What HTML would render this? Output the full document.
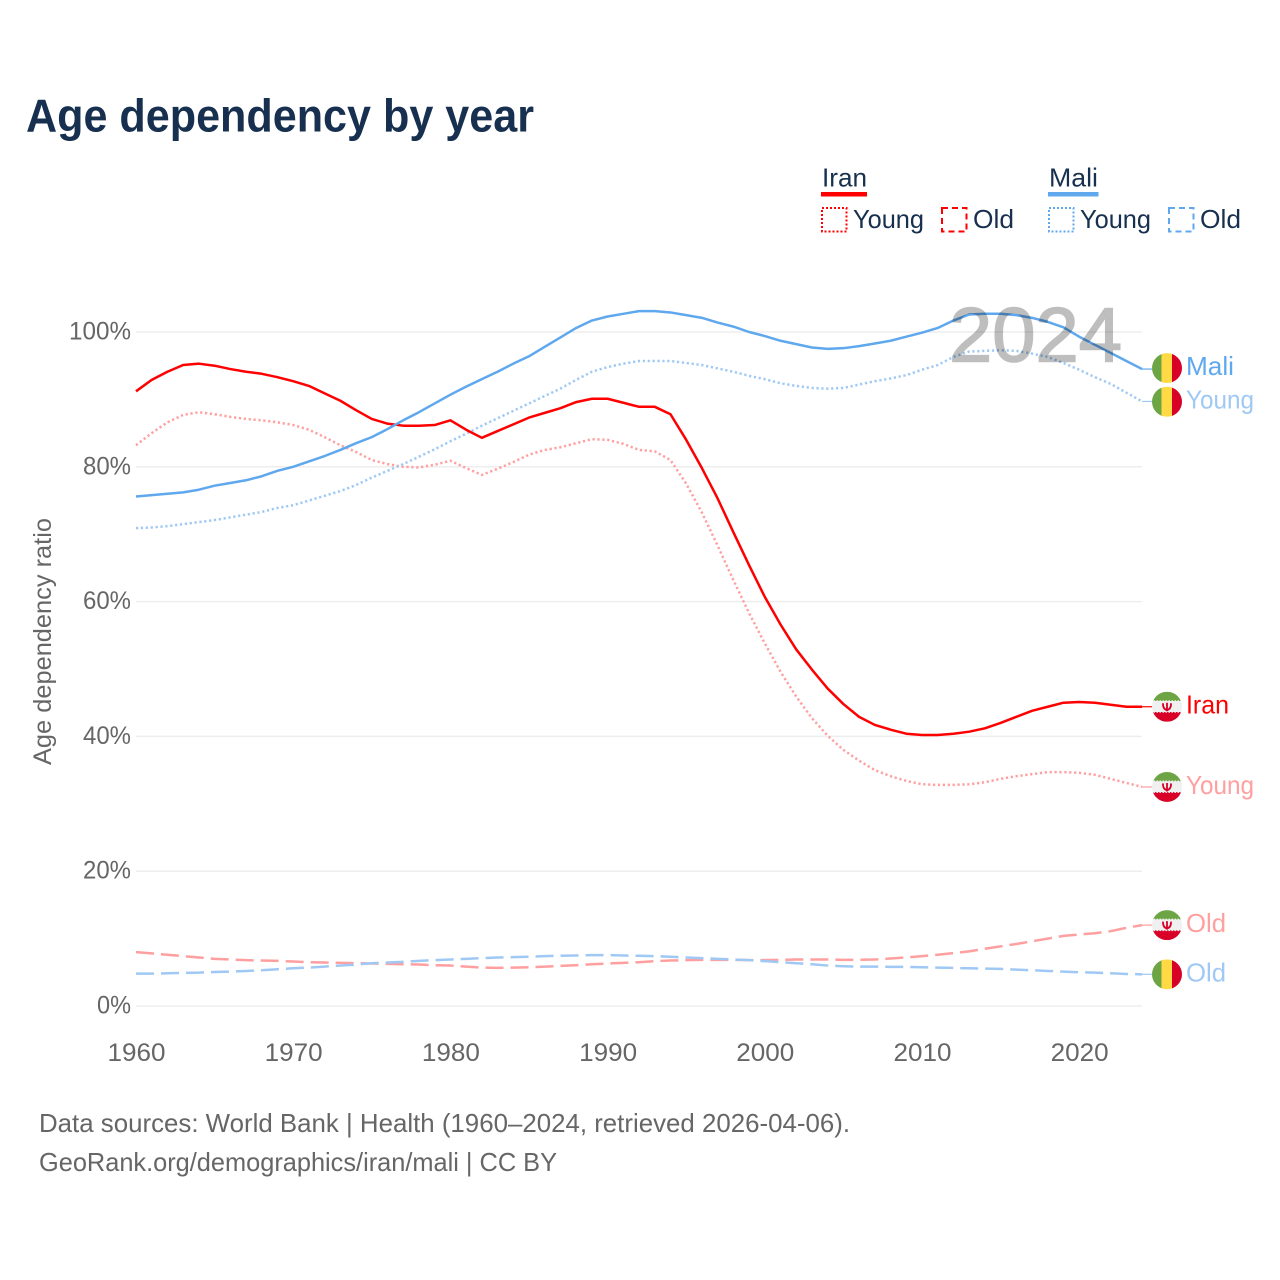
<!DOCTYPE html>
<html lang="en">
<head>
<meta charset="utf-8">
<title>Age dependency by year</title>
<style>
html,body{margin:0;padding:0;background:#fff;}
svg{display:block;font-family:"Liberation Sans",sans-serif;}
</style>
</head>
<body>
<svg id="chart" xmlns="http://www.w3.org/2000/svg" width="1280" height="1280" viewBox="0 0 1280 1280">
  <rect x="0" y="0" width="1280" height="1280" fill="#ffffff"/>
  <defs>
    <clipPath id="flag-clip"><circle cx="0" cy="0" r="15"/></clipPath>
  </defs>
  <text x="26" y="131.5" font-size="46" font-weight="700" fill="#17304f" textLength="508" lengthAdjust="spacingAndGlyphs">Age dependency by year</text>

  <g>
    <g>
      <text x="822" y="186.5" font-size="26" fill="#17304f" textLength="45" lengthAdjust="spacingAndGlyphs">Iran</text>
      <rect x="821" y="192" width="46" height="4.5" fill="#ff0000"/>
      <rect x="822" y="208" width="24.5" height="23.5" fill="none" stroke="#ff0000" stroke-width="2" stroke-dasharray="2 2"/>
      <text x="853" y="228" font-size="26" fill="#17304f" textLength="71" lengthAdjust="spacingAndGlyphs">Young</text>
      <rect x="942" y="208" width="24.5" height="23.5" fill="none" stroke="#ff0000" stroke-width="2" stroke-dasharray="6 4"/>
      <text x="973" y="228" font-size="26" fill="#17304f" textLength="41" lengthAdjust="spacingAndGlyphs">Old</text>
    </g>
    <g>
      <text x="1049" y="186.5" font-size="26" fill="#17304f" textLength="49" lengthAdjust="spacingAndGlyphs">Mali</text>
      <rect x="1048" y="192" width="50.5" height="4.5" fill="#5fa8ee"/>
      <rect x="1049" y="208" width="24.5" height="23.5" fill="none" stroke="#5fa8ee" stroke-width="2" stroke-dasharray="2 2"/>
      <text x="1080" y="228" font-size="26" fill="#17304f" textLength="71" lengthAdjust="spacingAndGlyphs">Young</text>
      <rect x="1169" y="208" width="24.5" height="23.5" fill="none" stroke="#5fa8ee" stroke-width="2" stroke-dasharray="6 4"/>
      <text x="1200" y="228" font-size="26" fill="#17304f" textLength="41" lengthAdjust="spacingAndGlyphs">Old</text>
    </g>
  </g>

  <g id="grid"></g>
  <g id="y-axis"></g>
  <g id="x-axis"></g>
  <text transform="translate(51,641.5) rotate(-90)" text-anchor="middle" font-size="25" fill="#666666" textLength="247" lengthAdjust="spacingAndGlyphs">Age dependency ratio</text>
  <g id="series"></g>
  <text x="949" y="361.5" font-size="77" fill="#000000" stroke="#000000" stroke-width="1.6" opacity="0.25" textLength="173" lengthAdjust="spacingAndGlyphs">2024</text>
  <g id="end-labels"></g>

  <text x="39" y="1132" font-size="26" fill="#666666" textLength="811" lengthAdjust="spacingAndGlyphs">Data sources: World Bank | Health (1960–2024, retrieved 2026-04-06).</text>
  <text x="39" y="1171" font-size="26" fill="#666666" textLength="518" lengthAdjust="spacingAndGlyphs">GeoRank.org/demographics/iran/mali | CC BY</text>
</svg>
<script>
var years = [1960,1961,1962,1963,1964,1965,1966,1967,1968,1969,
1970,1971,1972,1973,1974,1975,1976,1977,1978,1979,
1980,1981,1982,1983,1984,1985,1986,1987,1988,1989,
1990,1991,1992,1993,1994,1995,1996,1997,1998,1999,
2000,2001,2002,2003,2004,2005,2006,2007,2008,2009,
2010,2011,2012,2013,2014,2015,2016,2017,2018,2019,
2020,2021,2022,2023,2024];

var iranTotal = [91.2,92.9,94.1,95.1,95.3,95.0,94.5,94.1,93.8,93.3,
92.7,92.0,90.9,89.8,88.4,87.1,86.4,86.1,86.1,86.2,
86.9,85.5,84.3,85.3,86.3,87.3,88.0,88.7,89.6,90.1,
90.1,89.5,88.9,88.9,87.8,84.0,79.8,75.3,70.3,65.4,
60.7,56.6,52.9,49.9,47.1,44.8,42.9,41.7,41.0,40.4,
40.2,40.2,40.4,40.7,41.2,42.0,42.9,43.8,44.4,45.0,
45.1,45.0,44.7,44.4,44.4];

var iranYoung = [83.2,85.0,86.6,87.7,88.1,87.8,87.4,87.1,86.9,86.6,
86.2,85.5,84.4,83.2,82.2,81.0,80.4,80.0,79.9,80.3,
80.9,79.8,78.8,79.7,80.7,81.8,82.5,82.9,83.5,84.1,
84.0,83.4,82.5,82.3,81.0,77.5,73.2,68.3,63.2,58.3,
53.8,49.6,45.9,42.7,40.1,38.0,36.4,35.0,34.1,33.4,
32.9,32.8,32.8,32.9,33.2,33.7,34.1,34.4,34.7,34.7,
34.6,34.3,33.7,33.1,32.5];

var iranOld = [8.0,7.8,7.6,7.4,7.2,7.0,6.9,6.8,6.75,6.7,
6.6,6.5,6.45,6.4,6.35,6.3,6.25,6.2,6.15,6.05,
6.0,5.85,5.7,5.65,5.7,5.75,5.85,5.95,6.05,6.2,
6.3,6.4,6.5,6.65,6.75,6.8,6.85,6.85,6.85,6.8,
6.8,6.85,6.9,6.9,6.9,6.85,6.85,6.9,7.05,7.2,
7.4,7.6,7.85,8.1,8.5,8.85,9.2,9.6,10.0,10.4,
10.6,10.8,11.1,11.6,12.0];

var maliTotal = [75.6,75.8,76.0,76.2,76.6,77.2,77.6,78.0,78.6,79.4,
80.0,80.8,81.6,82.5,83.5,84.4,85.6,86.9,88.1,89.4,
90.7,91.9,93.0,94.1,95.3,96.4,97.8,99.2,100.6,101.7,
102.3,102.7,103.1,103.1,102.9,102.5,102.1,101.4,100.8,100.0,
99.4,98.7,98.2,97.7,97.5,97.6,97.9,98.3,98.7,99.3,
99.9,100.6,101.7,102.6,102.7,102.7,102.5,102.1,101.5,100.7,
99.3,98.1,96.9,95.7,94.5];

var maliYoung = [70.9,71.0,71.2,71.5,71.8,72.1,72.5,72.9,73.3,73.9,
74.3,75.0,75.7,76.4,77.3,78.4,79.4,80.4,81.5,82.6,
83.8,84.9,86.1,87.2,88.3,89.4,90.5,91.6,92.9,94.1,
94.8,95.3,95.7,95.7,95.7,95.4,95.1,94.6,94.1,93.5,
93.0,92.4,92.0,91.7,91.6,91.7,92.2,92.7,93.1,93.6,
94.4,95.1,96.3,97.1,97.2,97.3,97.2,96.8,96.3,95.4,
94.4,93.3,92.3,91.0,89.7];

var maliOld = [4.8,4.8,4.85,4.9,4.95,5.05,5.1,5.2,5.3,5.45,
5.6,5.7,5.85,6.0,6.15,6.35,6.45,6.55,6.7,6.8,
6.9,7.0,7.1,7.2,7.25,7.3,7.4,7.45,7.5,7.55,
7.55,7.5,7.45,7.4,7.3,7.2,7.1,7.0,6.9,6.8,
6.65,6.5,6.35,6.2,6.0,5.9,5.85,5.85,5.8,5.8,
5.75,5.7,5.65,5.6,5.55,5.5,5.4,5.3,5.2,5.1,
5.0,4.95,4.85,4.75,4.7];

var yTickValues = [0,20,40,60,80,100];
var xTickValues = [1960,1970,1980,1990,2000,2010,2020];

var NS = 'http://www.w3.org/2000/svg';
function xScale(year){ return 136 + (year - 1960) * 15.72; }
function yScale(pct){ return 1006 - pct * 6.74; }
function make(tag, attrs, parent){
  var el = document.createElementNS(NS, tag);
  for (var k in attrs) el.setAttribute(k, attrs[k]);
  parent.appendChild(el);
  return el;
}

var gridG = document.getElementById('grid');
var yAxisG = document.getElementById('y-axis');
var xAxisG = document.getElementById('x-axis');
var seriesG = document.getElementById('series');
var labelsG = document.getElementById('end-labels');

yTickValues.forEach(function(v){
  var gl = make('line', {x1:136, x2:1142, y1:yScale(v), y2:yScale(v), stroke:'#eeeeee', 'stroke-width':1.5}, gridG);
  
  
  var label = v + '%';
  var t = make('text', {x:131, y:yScale(v)+7.5, 'text-anchor':'end', 'font-size':25, fill:'#666666', textLength:(label.length-1)*14+20, lengthAdjust:'spacingAndGlyphs'}, yAxisG);
  
  
  t.textContent = label;
});

xTickValues.forEach(function(v){
  var t = make('text', {x:xScale(v)+0.5, y:1061, 'text-anchor':'middle', 'font-size':25, fill:'#666666', textLength:58, lengthAdjust:'spacingAndGlyphs'}, xAxisG);
  
  
  t.textContent = v;
});

function drawSeries(values, name, color, width, dash){
  var d = values.map(function(v, i){
    return (i ? 'L' : 'M') + xScale(years[i]).toFixed(2) + ',' + yScale(v).toFixed(2);
  }).join('');
  var attrs = {d:d, fill:'none', stroke:color, 'stroke-width':width, 'stroke-linejoin':'round'};
  if (dash) attrs['stroke-dasharray'] = dash;
  var p = make('path', attrs, seriesG);
  
  
  var last = years.length - 1;
  var c = make('line', {x1:xScale(years[last]), x2:1152, y1:yScale(values[last]), y2:yScale(values[last]), stroke:color, 'stroke-width':1.2}, seriesG);
  
  
}

drawSeries(iranOld, 'line-iran-old', '#ff9f9f', 2.5, '18 7');
drawSeries(maliOld, 'line-mali-old', '#9fc9f4', 2.5, '18 7');
drawSeries(iranYoung, 'line-iran-young', '#ff9f9f', 2.5, '2.2 2.7');
drawSeries(maliYoung, 'line-mali-young', '#9fc9f4', 2.5, '2.2 2.7');
drawSeries(iranTotal, 'line-iran-total', '#ff0000', 2.5, null);
drawSeries(maliTotal, 'line-mali-total', '#5fa8ee', 2.5, null);

function drawMaliFlag(g){
  make('rect', {x:-15, y:-15, width:10.5, height:30, fill:'#6da544'}, g);
  make('rect', {x:-5.5, y:-15, width:11, height:30, fill:'#ffda44'}, g);
  make('rect', {x:5, y:-15, width:10, height:30, fill:'#d80027'}, g);
}
function drawIranFlag(g){
  make('rect', {x:-15, y:-15, width:30, height:30, fill:'#f0f0f0'}, g);
  make('rect', {x:-15, y:-15, width:30, height:8.5, fill:'#6da544'}, g);
  make('rect', {x:-15, y:6, width:30, height:9, fill:'#d80027'}, g);
  make('line', {x1:-15, x2:15, y1:-6.5, y2:-6.5, stroke:'#6da544', 'stroke-width':1.6, 'stroke-dasharray':'1.5 1.5'}, g);
  make('line', {x1:-15, x2:15, y1:6, y2:6, stroke:'#d80027', 'stroke-width':1.6, 'stroke-dasharray':'1.5 1.5'}, g);
  make('path', {d:'M-4,-3.5Q-4.2,2.5 0,3.2Q4.2,2.5 4,-3.5M0,-4V4.5', fill:'none', stroke:'#d80027', 'stroke-width':1.8}, g);
}

function drawEndLabel(value, nudge, text, color, flag, textWidth, name){
  var y = yScale(value) + nudge;
  var g = make('g', {transform:'translate(1167,' + y.toFixed(2) + ')', 'clip-path':'url(#flag-clip)'}, labelsG);
  
  
  flag(g);
  var t = make('text', {x:1186, y:(y+7).toFixed(2), 'font-size':26, fill:color, textLength:textWidth, lengthAdjust:'spacingAndGlyphs'}, labelsG);
  
  
  t.textContent = text;
}

var lastIdx = years.length - 1;
drawEndLabel(maliTotal[lastIdx], -1, 'Mali', '#5fa8ee', drawMaliFlag, 48, 'end-mali-total');
drawEndLabel(maliYoung[lastIdx], 0.3, 'Young', '#9fc9f4', drawMaliFlag, 68, 'end-mali-young');
drawEndLabel(iranTotal[lastIdx], 0, 'Iran', '#ff0000', drawIranFlag, 43, 'end-iran-total');
drawEndLabel(iranYoung[lastIdx], 0, 'Young', '#ff9f9f', drawIranFlag, 68, 'end-iran-young');
drawEndLabel(iranOld[lastIdx], 0, 'Old', '#ff9f9f', drawIranFlag, 40, 'end-iran-old');
drawEndLabel(maliOld[lastIdx], 0, 'Old', '#9fc9f4', drawMaliFlag, 40, 'end-mali-old');
</script>
</body>
</html>
